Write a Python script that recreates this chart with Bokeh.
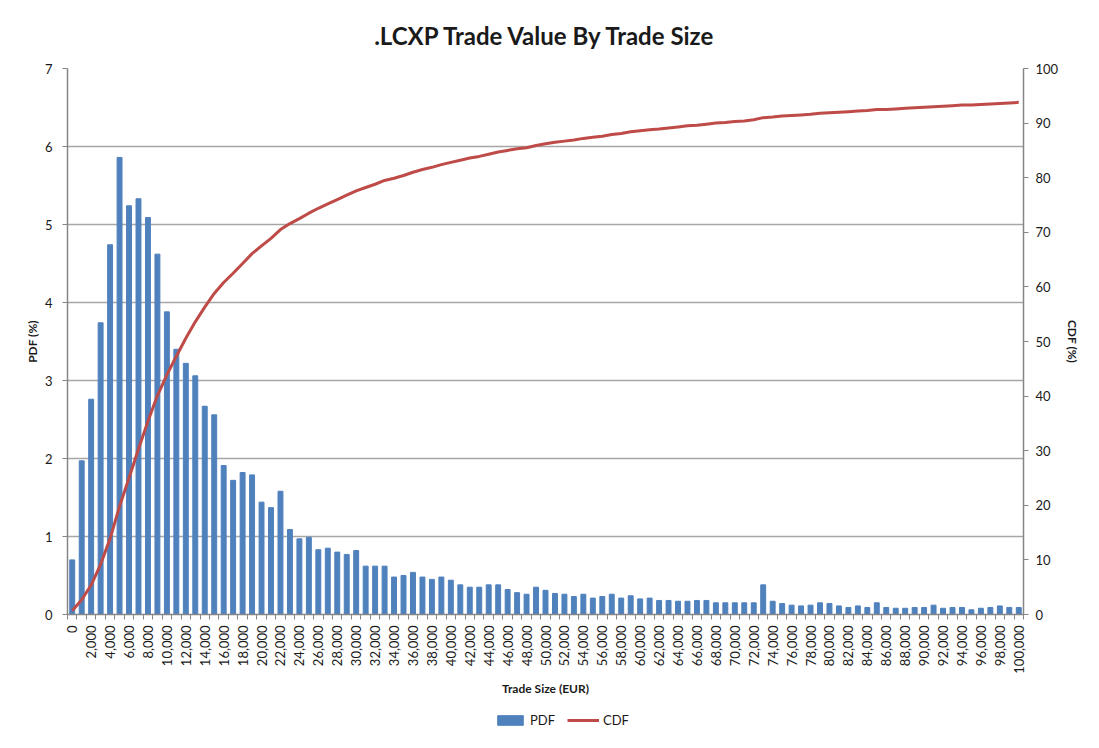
import math
from bokeh.plotting import figure
from bokeh.layouts import column
from bokeh.models import (Range1d, LinearAxis, FixedTicker, NumeralTickFormatter,
                          Legend, LegendItem)
from bokeh.embed import file_html
from bokeh.resources import INLINE

FONT = "Lato"

trade_size = list(range(0, 100001, 1000))

pdf_pct = [0.70, 1.97, 2.76, 3.74, 4.74, 5.86, 5.24, 5.33, 5.09, 4.62,
           3.88, 3.40, 3.22, 3.06, 2.67, 2.56, 1.91, 1.72, 1.82, 1.79,
           1.44, 1.37, 1.58, 1.09, 0.97, 0.99, 0.83, 0.85, 0.80, 0.77,
           0.82, 0.62, 0.62, 0.62, 0.48, 0.50, 0.54, 0.48, 0.45, 0.48,
           0.44, 0.38, 0.35, 0.35, 0.38, 0.38, 0.32, 0.28, 0.26, 0.35,
           0.31, 0.27, 0.26, 0.23, 0.26, 0.21, 0.23, 0.26, 0.21, 0.24,
           0.20, 0.21, 0.18, 0.18, 0.17, 0.17, 0.18, 0.18, 0.15, 0.15,
           0.15, 0.15, 0.15, 0.38, 0.17, 0.14, 0.12, 0.11, 0.12, 0.15,
           0.14, 0.11, 0.09, 0.11, 0.09, 0.15, 0.09, 0.08, 0.08, 0.09,
           0.09, 0.12, 0.08, 0.09, 0.09, 0.06, 0.08, 0.09, 0.11, 0.09,
           0.09]

cdf_pct = [0.7, 2.7, 5.4, 9.2, 13.9, 19.8, 25.0, 30.3, 35.4, 40.1,
           43.9, 47.3, 50.6, 53.6, 56.3, 58.8, 60.8, 62.5, 64.3, 66.1,
           67.5, 68.9, 70.5, 71.6, 72.5, 73.5, 74.4, 75.2, 76.0, 76.8,
           77.6, 78.2, 78.8, 79.5, 79.9, 80.4, 81.0, 81.5, 81.9, 82.4,
           82.8, 83.2, 83.6, 83.9, 84.3, 84.7, 85.0, 85.3, 85.5, 85.9,
           86.2, 86.5, 86.7, 86.9, 87.2, 87.4, 87.6, 87.9, 88.1, 88.4,
           88.6, 88.8, 88.9, 89.1, 89.3, 89.5, 89.6, 89.8, 90.0, 90.1,
           90.3, 90.4, 90.6, 91.0, 91.1, 91.3, 91.4, 91.5, 91.6, 91.8,
           91.9, 92.0, 92.1, 92.2, 92.3, 92.5, 92.5, 92.6, 92.7, 92.8,
           92.9, 93.0, 93.1, 93.2, 93.3, 93.3, 93.4, 93.5, 93.6, 93.7,
           93.8]

x_tick_values = list(range(0, 100001, 2000))
pdf_ticks = [0, 1, 2, 3, 4, 5, 6, 7]
cdf_ticks = [0, 10, 20, 30, 40, 50, 60, 70, 80, 90, 100]

AXIS_COLOR = "#868686"
GRID_COLOR = "#a6a6a6"
TEXT_COLOR = "#1a1a1a"
BAR_COLOR = "#4F81BD"
LINE_COLOR = "#BE4B48"

p = figure(width=1083, height=700, output_backend="svg", toolbar_location=None,
           x_range=Range1d(-500, 100500), y_range=Range1d(0, 7),
           title=".LCXP Trade Value By Trade Size")
p.extra_y_ranges = {"cdf": Range1d(0, 100)}

p.min_border_left = 67
p.min_border_right = 53
p.min_border_top = 68
p.min_border_bottom = 86
p.outline_line_color = None
p.background_fill_color = "white"
p.border_fill_color = "white"

p.title.text_font = FONT
p.title.text_font_size = "24px"
p.title.text_font_style = "bold"
p.title.text_color = TEXT_COLOR
p.title.align = "center"
p.title.standoff = 37

bars = p.vbar(x=trade_size, top=pdf_pct, width=520, color=BAR_COLOR)
line = p.line(x=trade_size, y=cdf_pct, y_range_name="cdf",
              line_color=LINE_COLOR, line_width=3)

# x axis
xa = p.xaxis[0]
xa.ticker = FixedTicker(ticks=x_tick_values,
                        minor_ticks=[v - 500 for v in trade_size] + [100500])
xa.formatter = NumeralTickFormatter(format="0,0")
xa.major_label_orientation = math.pi / 2
xa.major_tick_line_color = None
xa.minor_tick_in = 0
xa.minor_tick_out = 5
xa.minor_tick_line_color = AXIS_COLOR
xa.axis_line_color = AXIS_COLOR
xa.axis_line_width = 1.5
xa.major_label_text_font = FONT
xa.major_label_text_font_size = "13px"
xa.major_label_text_color = TEXT_COLOR
xa.major_label_standoff = 5
xa.axis_label = "Trade Size (EUR)"
xa.axis_label_text_font = FONT
xa.axis_label_text_font_size = "12px"
xa.axis_label_text_font_style = "bold"
xa.axis_label_text_color = TEXT_COLOR
xa.axis_label_standoff = 4

# left axis
ya = p.yaxis[0]
ya.ticker = FixedTicker(ticks=pdf_ticks)
ya.minor_tick_line_color = None
ya.major_tick_in = 0
ya.major_tick_out = 5
ya.major_tick_line_color = AXIS_COLOR
ya.axis_line_color = AXIS_COLOR
ya.axis_line_width = 1.5
ya.major_label_text_font = FONT
ya.major_label_text_font_size = "13px"
ya.major_label_text_color = TEXT_COLOR
ya.major_label_standoff = 10
ya.axis_label = "PDF (%)"
ya.axis_label_text_font = FONT
ya.axis_label_text_font_size = "12px"
ya.axis_label_text_font_style = "bold"
ya.axis_label_text_color = TEXT_COLOR
ya.axis_label_standoff = 2

# right axis
ra = LinearAxis(y_range_name="cdf", ticker=FixedTicker(ticks=cdf_ticks))
ra.minor_tick_line_color = None
ra.major_tick_in = 0
ra.major_tick_out = 5
ra.major_tick_line_color = AXIS_COLOR
ra.axis_line_color = AXIS_COLOR
ra.axis_line_width = 1.5
ra.major_label_text_font = FONT
ra.major_label_text_font_size = "13px"
ra.major_label_text_color = TEXT_COLOR
ra.major_label_standoff = 7
ra.axis_label = "CDF (%)"
ra.axis_label_text_font = FONT
ra.axis_label_text_font_size = "12px"
ra.axis_label_text_font_style = "bold"
ra.axis_label_text_color = TEXT_COLOR
ra.axis_label_standoff = 4
p.add_layout(ra, "right")

p.xgrid.grid_line_color = None
p.ygrid.ticker = FixedTicker(ticks=pdf_ticks)
p.ygrid.grid_line_color = GRID_COLOR
p.ygrid.grid_line_width = 1.5

# legend strip underneath (proxy renderers sit below the visible range)
lf = figure(width=1083, height=32, output_backend="svg", toolbar_location=None,
            x_range=Range1d(0, 1), y_range=Range1d(0, 1))
lf.min_border_left = 0
lf.min_border_right = 0
lf.min_border_top = 0
lf.min_border_bottom = 0
lf.axis.visible = False
lf.grid.visible = False
lf.outline_line_color = None
lf.border_fill_color = "white"
lf.background_fill_color = "white"
lb = lf.vbar(x=[0.5], top=[-5], bottom=[-6], width=0.1, color=BAR_COLOR)
ll = lf.line(x=[0.4, 0.6], y=[-5, -5], line_color=LINE_COLOR, line_width=3)
legend = Legend(items=[LegendItem(label="PDF", renderers=[lb]),
                       LegendItem(label="CDF", renderers=[ll])],
                orientation="horizontal", location=(427, 4),
                label_text_font=FONT, label_text_font_size="13px",
                label_text_color=TEXT_COLOR,
                glyph_width=32, glyph_height=12, spacing=12,
                label_standoff=4, padding=2, margin=0,
                border_line_color=None, background_fill_alpha=0)
lf.add_layout(legend, "center")

layout = column(p, lf, spacing=0)
open("out.html", "w").write(file_html(layout, INLINE))
